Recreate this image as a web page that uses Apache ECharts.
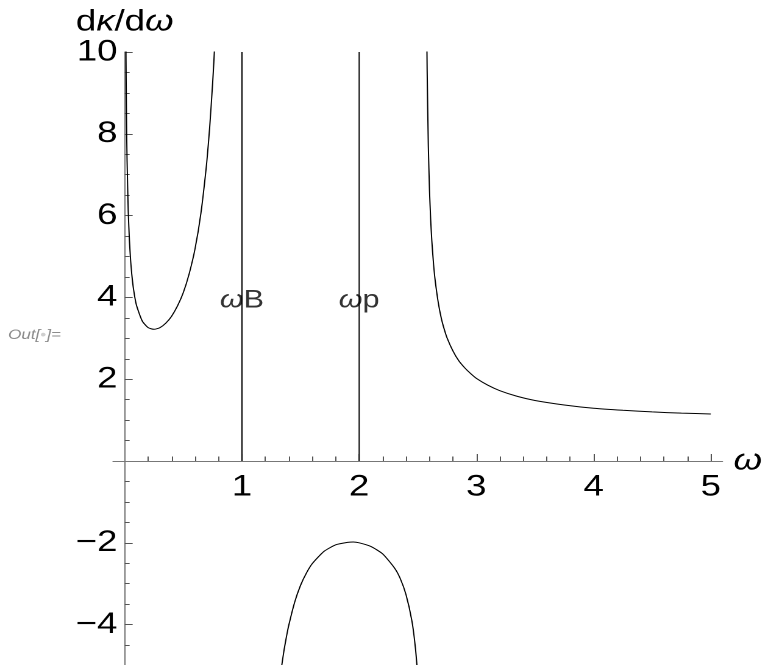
<!DOCTYPE html>
<html>
<head>
<meta charset="utf-8">
<script src="https://cdn.jsdelivr.net/npm/echarts@6/dist/echarts.min.js"></script>
<style>
  html, body { margin: 0; padding: 0; background: #fff; overflow: hidden; }
  /* the plot is laid out 630px wide and widened to the 768px page */
  #chart { width: 630px; height: 665px; transform: scaleX(1.219); transform-origin: 0 0; }
</style>
</head>
<body>
<div id="chart"></div>
<script>
// Branch below the gyro-frequency (0 < ω < ωB)
const lowOmega = [0.008, 0.01, 0.012, 0.015, 0.02, 0.03, 0.04, 0.05, 0.06, 0.075, 0.1, 0.15, 0.2, 0.25, 0.3, 0.35, 0.4, 0.45, 0.5, 0.55, 0.6, 0.65, 0.7, 0.725, 0.75, 0.76, 0.77];
const lowSlope = [11.35, 10.19, 9.34, 8.40, 7.34, 6.11, 5.39, 4.91, 4.57, 4.20, 3.81, 3.42, 3.26, 3.22, 3.26, 3.37, 3.54, 3.79, 4.12, 4.58, 5.19, 6.06, 7.31, 8.17, 9.24, 9.75, 10.32];

// Middle (negative) branch
const midOmega = [1.33, 1.34, 1.36, 1.38, 1.4, 1.45, 1.5, 1.55, 1.6, 1.7, 1.8, 1.9, 1.95, 2.0, 2.1, 2.2, 2.3, 2.35, 2.4, 2.45, 2.48, 2.5];
const midSlope = [-5.20, -4.99, -4.61, -4.29, -4.01, -3.45, -3.04, -2.74, -2.51, -2.21, -2.05, -1.99, -1.98, -2.00, -2.09, -2.27, -2.61, -2.87, -3.27, -3.91, -4.57, -5.25];

// Branch above the cutoff
const highOmega = [2.57, 2.575, 2.58, 2.59, 2.6, 2.61, 2.62, 2.635, 2.65, 2.675, 2.7, 2.725, 2.75, 2.8, 2.85, 2.9, 2.95, 3.0, 3.1, 3.2, 3.35, 3.5, 3.75, 4.0, 4.25, 4.5, 4.75, 5.0];
const highSlope = [14.15, 11.21, 9.57, 7.71, 6.63, 5.91, 5.38, 4.80, 4.38, 3.87, 3.50, 3.23, 3.01, 2.69, 2.45, 2.28, 2.14, 2.02, 1.85, 1.72, 1.58, 1.48, 1.37, 1.29, 1.24, 1.20, 1.17, 1.15];

// Characteristic frequencies marked with vertical lines
const markerOmega = [1, 2];
const markerSub = ['B', 'p'];
const markerTop = 10;
const markerLabelLevel = 4;

// Axis ticks
const xMajor = [1, 2, 3, 4, 5];
const yMajor = [-4, -2, 2, 4, 6, 8, 10];
const xMinor = [];
for (let i = 1; i <= 25; i++) if (i % 5 !== 0) xMinor.push(+(i * 0.2).toFixed(1));
const yMinor = [];
for (let i = -10; i <= 20; i++) if (i % 4 !== 0) yMinor.push(i * 0.5);

const xRange = [-0.1, 5.1];
const yRange = [-5, 10];

// Plot frame
const GRID = { left: 92.7, top: 52, width: 500, height: 613.5 };
// Axes cross at the origin: shift them from the frame edges onto zero
const xAxisShift = -GRID.height * (0 - yRange[0]) / (yRange[1] - yRange[0]);
const yAxisShift = -GRID.width * (0 - xRange[0]) / (xRange[1] - xRange[0]);

const FONT = '"Liberation Sans", Arial, sans-serif';
const AXIS_GRAY = '#777';
const TICK_GRAY = '#555';
const pairs = (xs, ys) => xs.map((x, i) => [x, ys[i]]);

const curve = (xs, ys) => ({
  type: 'line', xAxisIndex: 0, yAxisIndex: 0,
  data: pairs(xs, ys), showSymbol: false, symbol: 'none',
  smooth: 0.2, clip: true, silent: true,
  lineStyle: { color: '#000', width: 1 }
});

const series = [
  curve(lowOmega, lowSlope),
  curve(midOmega, midSlope),
  curve(highOmega, highSlope)
];
markerOmega.forEach(w => {
  series.push({
    type: 'line', xAxisIndex: 0, yAxisIndex: 0,
    data: [[w, 0], [w, markerTop]], symbol: 'none', silent: true,
    lineStyle: { color: '#000', width: 1 }
  });
});
series.push({
  type: 'scatter', xAxisIndex: 0, yAxisIndex: 0,
  data: markerOmega.map(w => [w, markerLabelLevel]),
  symbolSize: 0, silent: true,
  label: {
    show: true, position: 'inside', offset: [0, 3],
    formatter: p => '{g|ω}' + markerSub[p.dataIndex],
    fontFamily: FONT, fontSize: 25, color: '#000',
    rich: { g: { fontFamily: FONT, fontSize: 25, fontStyle: 'italic', color: '#000' } }
  }
});

const minus = v => (v < 0 ? '\u2212' + Math.abs(v) : String(v));

const xBase = {
  type: 'value', min: xRange[0], max: xRange[1], position: 'bottom', offset: xAxisShift,
  splitLine: { show: false }
};
const yBase = {
  type: 'value', min: yRange[0], max: yRange[1], position: 'left', offset: yAxisShift,
  splitLine: { show: false }
};

const option = {
  animation: false,
  backgroundColor: '#fff',
  grid: Object.assign({ containLabel: false, outerBoundsMode: 'none' }, GRID),
  xAxis: [
    Object.assign({}, xBase, {
      axisLine: { show: true, onZero: false, lineStyle: { color: AXIS_GRAY, width: 1 } },
      axisTick: { show: true, inside: true, length: 7, customValues: xMajor, lineStyle: { color: TICK_GRAY, width: 1 } },
      axisLabel: { show: true, customValues: xMajor, margin: 11, fontSize: 30, color: '#000', fontFamily: FONT },
      name: 'ω', nameLocation: 'end', nameGap: 9,
      nameTextStyle: { fontSize: 30, fontStyle: 'italic', color: '#000', fontFamily: FONT, verticalAlign: 'middle', padding: [10, 0, 0, 0] }
    }),
    Object.assign({}, xBase, {
      axisLine: { show: false, onZero: false },
      axisTick: { show: true, inside: true, length: 4.5, customValues: xMinor, lineStyle: { color: TICK_GRAY, width: 1 } },
      axisLabel: { show: false }
    })
  ],
  yAxis: [
    Object.assign({}, yBase, {
      axisLine: { show: true, onZero: false, lineStyle: { color: AXIS_GRAY, width: 1 } },
      axisTick: { show: true, inside: true, length: 6.5, customValues: yMajor, lineStyle: { color: TICK_GRAY, width: 1 } },
      axisLabel: { show: true, customValues: yMajor, margin: 6, fontSize: 30, color: '#000', fontFamily: FONT, formatter: minus },
      name: 'd{g|κ}/d{g|ω}', nameLocation: 'end', nameGap: 9,
      nameTextStyle: {
        fontSize: 30, color: '#000', fontFamily: FONT, align: 'center',
        rich: { g: { fontSize: 30, fontStyle: 'italic', color: '#000', fontFamily: FONT } }
      }
    }),
    Object.assign({}, yBase, {
      axisLine: { show: false, onZero: false },
      axisTick: { show: true, inside: true, length: 4, customValues: yMinor, lineStyle: { color: TICK_GRAY, width: 1 } },
      axisLabel: { show: false }
    })
  ],
  graphic: [
    {
      type: 'text', left: 6.6, top: 328, silent: true,
      style: {
        text: 'Out[{d|•}]=',
        font: 'italic 14px ' + FONT, fill: '#8c8c8c',
        rich: { d: { fill: '#cfcfcf', font: '14px ' + FONT } }
      }
    }
  ],
  series: series
};

const chart = echarts.init(document.getElementById('chart'), null, { renderer: 'canvas', devicePixelRatio: 2 });
chart.setOption(option);
</script>
</body>
</html>
